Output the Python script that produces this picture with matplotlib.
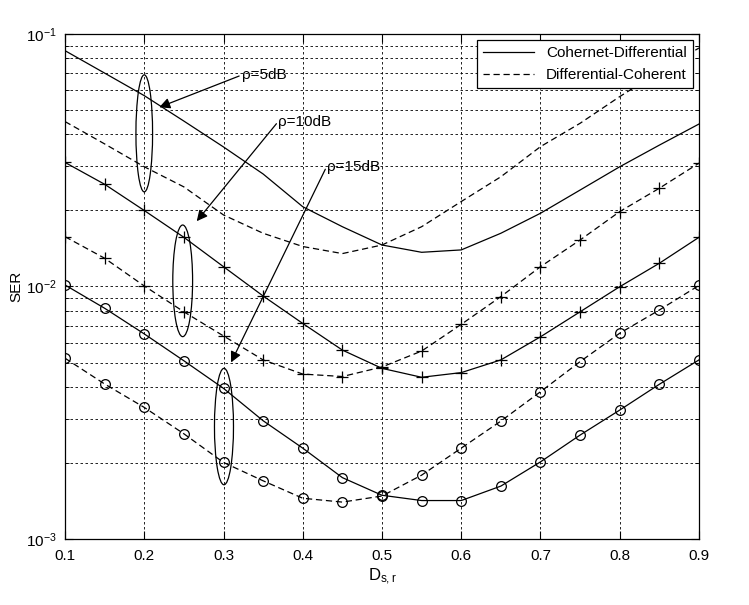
import numpy as np
import matplotlib
matplotlib.use("Agg")
import matplotlib.pyplot as plt
from matplotlib.patches import Ellipse

plt.rcParams['font.family'] = ['Liberation Sans', 'DejaVu Sans']
plt.rcParams['mathtext.fontset'] = 'custom'
plt.rcParams['mathtext.rm'] = 'Liberation Sans'
plt.rcParams['mathtext.it'] = 'Liberation Sans:italic'

# distance D_{s,r}
d = [0.1, 0.15, 0.2, 0.25, 0.3, 0.35, 0.4, 0.45, 0.5,
     0.55, 0.6, 0.65, 0.7, 0.75, 0.8, 0.85, 0.9]

# rho = 5 dB
ser_cd_5 = [0.0859, 0.070, 0.057, 0.0452, 0.0357, 0.0279, 0.0207, 0.01725, 0.0146,
            0.01366, 0.01396, 0.01625, 0.0195, 0.0241, 0.0298, 0.0363, 0.0440]
ser_dc_5 = [0.045, 0.0367, 0.0298, 0.0248, 0.0192, 0.01625, 0.0144, 0.0135, 0.0146,
            0.01725, 0.0217, 0.0272, 0.0358, 0.0443, 0.0565, 0.071, 0.088]
# rho = 10 dB
ser_cd_10 = [0.031, 0.0254, 0.0200, 0.01566, 0.01198, 0.00917, 0.00714, 0.0056, 0.00474,
             0.00437, 0.00456, 0.00512, 0.00632, 0.00794, 0.00998, 0.01236, 0.01566]
ser_dc_10 = [0.01575, 0.01294, 0.01005, 0.00794, 0.00637, 0.00512, 0.0045, 0.0044, 0.0048,
             0.00555, 0.00708, 0.00912, 0.01198, 0.01528, 0.0198, 0.0245, 0.0308]
# rho = 15 dB
ser_cd_15 = [0.01014, 0.0082, 0.00649, 0.00508, 0.00395, 0.00294, 0.00229, 0.00175, 0.00149,
             0.00142, 0.00142, 0.00162, 0.00202, 0.00258, 0.00324, 0.0041, 0.00512]
ser_dc_15 = [0.0052, 0.00411, 0.00332, 0.00261, 0.00201, 0.0017, 0.00145, 0.0014, 0.00148,
             0.00179, 0.00229, 0.00293, 0.00383, 0.00504, 0.00653, 0.00807, 0.0101]

legend_labels = ['Cohernet-Differential', 'Differential-Coherent']

# annotations: label, text/arrow start (x, y), arrow tip (x, y)
notes = [
    (r'ρ=5dB', (0.323, 0.0688), (0.2157, 0.0508)),
    (r'ρ=10dB', (0.369, 0.0450), (0.264, 0.01779)),
    (r'ρ=15dB', (0.430, 0.0298), (0.308, 0.00489)),
]
# ellipses: x centre, y bottom, y top, width in x units
ellipses = [
    (0.2, 0.0237, 0.0689, 0.021),
    (0.2485, 0.00633, 0.01752, 0.025),
    (0.3006, 0.00164, 0.00474, 0.024),
]

fig = plt.figure(figsize=(7.49, 6.05), dpi=100)
ax = fig.add_axes([0.0868, 0.1091, 0.8464, 0.8347])

lw = 0.9
dash = (0, (5, 3))
ax.semilogy(d, ser_cd_5, color='k', lw=lw, label=legend_labels[0])
ax.semilogy(d, ser_dc_5, color='k', lw=lw, linestyle=dash, label=legend_labels[1])
ax.semilogy(d, ser_cd_10, color='k', lw=lw, marker='+', ms=9, mew=0.9)
ax.semilogy(d, ser_dc_10, color='k', lw=lw, linestyle=dash, marker='+', ms=9, mew=0.9)
ax.semilogy(d, ser_cd_15, color='k', lw=lw, marker='o', ms=7, mfc='none', mew=0.9)
ax.semilogy(d, ser_dc_15, color='k', lw=lw, linestyle=dash, marker='o', ms=7, mfc='none', mew=0.9)

ax.set_xlim(0.1, 0.9)
ax.set_ylim(1e-3, 1e-1)
ax.set_xticks(np.arange(0.1, 0.91, 0.1))
ax.set_xticklabels(['%.1f' % v for v in np.arange(0.1, 0.91, 0.1)])

ax.grid(True, which='major', color='k', linestyle=(0, (3, 3)), lw=0.6)
ax.grid(True, which='minor', axis='y', color='k', linestyle=(0, (3, 3)), lw=0.6)
ax.tick_params(which='both', direction='in', top=True, right=True, labelsize=11)
ax.tick_params(which='major', length=6)
ax.tick_params(which='minor', length=3)
ax.tick_params(axis='x', pad=7)
ax.tick_params(axis='y', pad=6)
for s in ax.spines.values():
    s.set_linewidth(0.9)

ax.set_xlabel(r'$\mathrm{D}_{\mathrm{s,r}}$', fontsize=12, labelpad=3)
ax.set_ylabel('SER', fontsize=11, labelpad=2)

# ellipses drawn in axes fraction so they stay round on the log axis
for xc, y0, y1, w in ellipses:
    fx = (xc - 0.1) / 0.8
    f0 = (np.log10(y0) + 3) / 2
    f1 = (np.log10(y1) + 3) / 2
    ax.add_patch(Ellipse((fx, (f0 + f1) / 2), w / 0.8, f1 - f0,
                         transform=ax.transAxes, fill=False, ec='k', lw=0.9, zorder=4))

for txt, start, tip in notes:
    ax.annotate('', xy=tip, xytext=start,
                arrowprops=dict(arrowstyle='-|>', color='k', lw=0.9, mutation_scale=16))
    ax.text(start[0], start[1], txt, fontsize=11, ha='left', va='center', zorder=5)

leg = ax.legend(loc='upper right', fontsize=11, frameon=True, fancybox=False,
                edgecolor='k', framealpha=1, handlelength=3.3, borderaxespad=0.4)
leg.get_frame().set_linewidth(0.9)

fig.savefig('out.png', dpi=100)
